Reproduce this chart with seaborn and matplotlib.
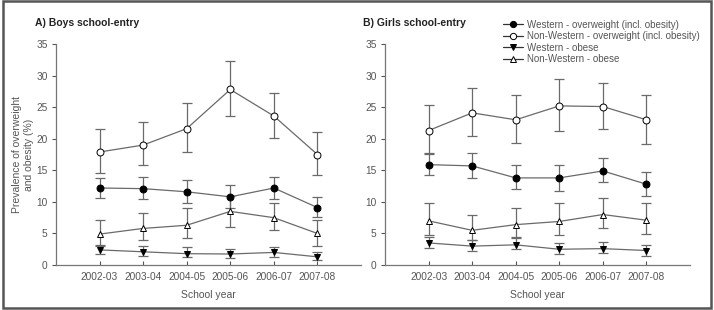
import numpy as np
import pandas as pd
import matplotlib
matplotlib.use("Agg")
import matplotlib.pyplot as plt
import seaborn as sns
from matplotlib.patches import Rectangle

# school years on the x axis
years = ["2002-03", "2003-04", "2004-05", "2005-06", "2006-07", "2007-08"]

series_names = ["Western - overweight (incl. obesity)",
                "Non-Western - overweight (incl. obesity)",
                "Western - obese",
                "Non-Western - obese"]

# A) boys : values, lower and upper bounds of the bars
boys_w_ow = [12.2, 12.1, 11.6, 10.8, 12.2, 9.1]
boys_w_ow_lo = [10.6, 10.5, 9.9, 9.1, 10.5, 7.6]
boys_w_ow_hi = [13.8, 13.9, 13.5, 12.7, 13.9, 10.8]

boys_nw_ow = [17.9, 19.0, 21.6, 27.8, 23.6, 17.5]
boys_nw_ow_lo = [14.5, 15.8, 17.9, 23.6, 20.1, 14.2]
boys_nw_ow_hi = [21.6, 22.6, 25.6, 32.3, 27.2, 21.0]

boys_w_ob = [2.4, 2.1, 1.8, 1.75, 2.0, 1.3]
boys_w_ob_lo = [1.7, 1.4, 1.2, 1.1, 1.3, 0.8]
boys_w_ob_hi = [3.1, 3.0, 2.8, 2.6, 2.8, 2.1]

boys_nw_ob = [4.9, 5.8, 6.3, 8.5, 7.5, 5.0]
boys_nw_ob_lo = [3.0, 3.9, 4.3, 6.0, 5.5, 3.0]
boys_nw_ob_hi = [7.2, 8.2, 9.0, 11.0, 9.8, 7.2]

# B) girls
girls_w_ow = [15.9, 15.7, 13.8, 13.8, 14.9, 12.8]
girls_w_ow_lo = [14.3, 13.8, 12.1, 11.8, 13.2, 11.0]
girls_w_ow_hi = [17.8, 17.8, 15.8, 15.8, 17.0, 14.8]

girls_nw_ow = [21.3, 24.1, 23.0, 25.2, 25.1, 23.0]
girls_nw_ow_lo = [17.6, 20.4, 19.3, 21.2, 21.5, 19.2]
girls_nw_ow_hi = [25.3, 28.1, 27.0, 29.5, 28.9, 27.0]

girls_w_ob = [3.5, 3.0, 3.2, 2.5, 2.6, 2.3]
girls_w_ob_lo = [2.7, 2.2, 2.5, 1.7, 1.9, 1.4]
girls_w_ob_hi = [4.5, 3.9, 4.4, 3.5, 3.6, 3.2]

girls_nw_ob = [7.0, 5.5, 6.4, 6.9, 8.0, 7.1]
girls_nw_ob_lo = [4.8, 3.9, 4.3, 4.8, 5.8, 4.9]
girls_nw_ob_hi = [9.8, 7.9, 9.0, 9.8, 10.6, 9.8]

panels = [
    ("A) Boys school-entry",
     [(boys_w_ow, boys_w_ow_lo, boys_w_ow_hi),
      (boys_nw_ow, boys_nw_ow_lo, boys_nw_ow_hi),
      (boys_w_ob, boys_w_ob_lo, boys_w_ob_hi),
      (boys_nw_ob, boys_nw_ob_lo, boys_nw_ob_hi)]),
    ("B) Girls school-entry",
     [(girls_w_ow, girls_w_ow_lo, girls_w_ow_hi),
      (girls_nw_ow, girls_nw_ow_lo, girls_nw_ow_hi),
      (girls_w_ob, girls_w_ob_lo, girls_w_ob_hi),
      (girls_nw_ob, girls_nw_ob_lo, girls_nw_ob_hi)]),
]

# marker style per series
markers = ["o", "o", "v", "^"]
faces = ["black", "white", "black", "white"]

sns.set_style("ticks")
plt.rcParams["font.family"] = ["Liberation Sans", "DejaVu Sans"]
txt = "#555555"
line_c = "#6a6a6a"

fig = plt.figure(figsize=(7.14, 3.10), dpi=100)
axes = [fig.add_axes([0.0784, 0.145, 0.4272, 0.713]),
        fig.add_axes([0.5392, 0.145, 0.4272, 0.713])]

pos = np.arange(1, len(years) + 1)
handles = []
for ax, (title, data) in zip(axes, panels):
    for i, (vals, lo, hi) in enumerate(data):
        vals = np.array(vals)
        yerr = [vals - np.array(lo), np.array(hi) - vals]
        ax.errorbar(pos, vals, yerr=yerr, fmt="none", ecolor=line_c,
                    elinewidth=0.9, capsize=3.5, capthick=0.9, zorder=2)
        sns.lineplot(x=pos, y=vals, ax=ax, color=line_c, lw=0.9,
                     marker=markers[i], markersize=5,
                     markerfacecolor=faces[i], markeredgecolor="black",
                     markeredgewidth=0.7, zorder=3)
    ax.set_xlim(0, 7)
    ax.set_ylim(0, 35)
    ax.set_xticks(pos)
    ax.set_xticklabels(years)
    ax.set_yticks(range(0, 36, 5))
    ax.tick_params(axis="y", direction="out", length=3, width=0.8,
                   colors=txt, labelsize=7.3, pad=3)
    ax.tick_params(axis="x", direction="in", length=3, width=0.8,
                   colors=txt, labelsize=7.3, pad=5)
    for s in ["left", "bottom"]:
        ax.spines[s].set_color("#777777")
        ax.spines[s].set_linewidth(0.9)
    sns.despine(ax=ax)
    ax.set_xlabel("School year", color=txt, fontsize=7.5, labelpad=6)
    ax.set_ylabel("")

axes[0].set_ylabel("Prevalence of overweight\nand obesity (%)", color=txt,
                   fontsize=7.5, linespacing=1.3)
axes[0].yaxis.set_label_coords(-0.072, 0.5)
fig.text(0.049, 0.925, panels[0][0], fontsize=7.5, fontweight="bold",
         color="#222222", va="center")
fig.text(0.508, 0.925, panels[1][0], fontsize=7.5, fontweight="bold",
         color="#222222", va="center")

# legend handles
for i, name in enumerate(series_names):
    h, = axes[1].plot([], [], color="#333333", lw=0.9, marker=markers[i],
                      markersize=4.5, markerfacecolor=faces[i],
                      markeredgecolor="black", markeredgewidth=0.7, label=name)
    handles.append(h)
fig.legend(handles=handles, loc="upper left", bbox_to_anchor=(0.698, 0.952),
           frameon=False, fontsize=7.0, labelcolor=txt, handlelength=2.0,
           handletextpad=0.4, labelspacing=0.16, borderpad=0)

# grey frame around the whole figure
fig.patches.append(Rectangle((0.004, 0.006), 0.992, 0.99, transform=fig.transFigure,
                             fill=False, edgecolor="#555555", lw=1.8))

fig.savefig("out.png", dpi=100)
